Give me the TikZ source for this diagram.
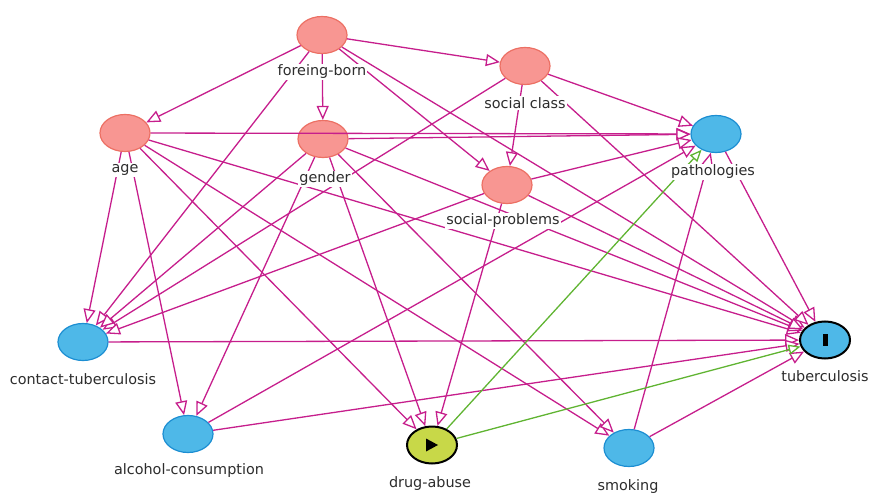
\documentclass[tikz,border=0pt]{standalone}
\usepackage{fontspec}
\setmainfont{DejaVu Sans}
\usetikzlibrary{shapes.geometric,arrows.meta}
\definecolor{pinkline}{RGB}{198,30,140}
\definecolor{greenline}{RGB}{96,180,50}
\definecolor{rfill}{RGB}{248,150,146}
\definecolor{rdraw}{RGB}{236,112,100}
\definecolor{bfill}{RGB}{78,184,232}
\definecolor{bdraw}{RGB}{28,142,210}
\definecolor{yfill}{RGB}{200,216,72}
\definecolor{txt}{RGB}{45,45,45}
\begin{document}
\begin{tikzpicture}[x=1pt,y=-1pt,
  var/.style={ellipse, minimum width=50pt, minimum height=37pt, inner sep=0pt, line width=1.2pt},
  advar/.style={var, fill=rfill, draw=rdraw},
  ovar/.style={var, fill=bfill, draw=bdraw},
  expvar/.style={var, fill=yfill, draw=black, line width=2pt},
  outvar/.style={var, fill=bfill, draw=black, line width=2pt},
  lab/.style={fill=white, inner sep=1pt, text=txt, font=\fontsize{14.4}{16}\selectfont},
  edge/.style={draw=pinkline, line width=1.3pt, -{Triangle[length=14pt,width=12pt,fill=white,line width=1.3pt]}},
  gedge/.style={draw=greenline, line width=1.3pt, -{Triangle[length=12pt,width=10pt,fill=white,line width=1.3pt]}}
]
\useasboundingbox (0,0) rectangle (869,494);
% nodes
\node[advar] (FB) at (322,35) {};
\node[advar] (SC) at (525,66) {};
\node[advar] (AGE) at (125,133) {};
\node[advar] (GEN) at (323,139) {};
\node[advar] (SP) at (507,185) {};
\node[ovar] (PAT) at (716,134) {};
\node[ovar] (CT) at (83,342) {};
\node[outvar] (TB) at (825,340) {};
\node[ovar] (ALC) at (188,434) {};
\node[expvar] (DA) at (432,445) {};
\node[ovar] (SMK) at (629,448) {};
\fill (DA.center) ++(-6,-6.5) -- ++(0,13) -- ++(12,-6.5) -- cycle;
\fill (TB.center) ++(-2.5,-6) rectangle ++(5,12);
% edges
\draw[edge] (FB) -- (SC);
\draw[edge] (FB) -- (GEN);
\draw[edge] (FB) -- (AGE);
\draw[edge] (FB) -- (SP);
\draw[edge] (FB) -- (TB);
\draw[edge] (FB) -- (CT);
\draw[edge] (SC) -- (SP);
\draw[edge] (SC) -- (PAT);
\draw[edge] (SC) -- (TB);
\draw[edge] (SC) -- (CT);
\draw[edge] (AGE) -- (PAT);
\draw[edge] (AGE) -- (CT);
\draw[edge] (AGE) -- (ALC);
\draw[edge] (AGE) -- (DA);
\draw[edge] (AGE) -- (SMK);
\draw[edge] (AGE) -- (TB);
\draw[edge] (GEN) -- (PAT);
\draw[edge] (GEN) -- (CT);
\draw[edge] (GEN) -- (ALC);
\draw[edge] (GEN) -- (DA);
\draw[edge] (GEN) -- (SMK);
\draw[edge] (GEN) -- (TB);
\draw[edge] (SP) -- (PAT);
\draw[edge] (SP) -- (CT);
\draw[edge] (SP) -- (TB);
\draw[edge] (SP) -- (DA);
\draw[edge] (CT) -- (TB);
\draw[edge] (ALC) -- (PAT);
\draw[edge] (ALC) -- (TB);
\draw[edge] (SMK) -- (PAT);
\draw[edge] (SMK) -- (TB);
\draw[edge] (PAT) -- (TB);
\draw[gedge] (DA) -- (PAT);
\draw[gedge] (DA) -- (TB);
% labels
\node[lab] (FBl) at (322,72) {foreing-born};
\node[lab] (SCl) at (525,103) {social class};
\node[lab] (AGEl) at (125,170) {age};
\node[lab] (GENl) at (325,179) {gender};
\node[lab] (SPl) at (503,221) {social-problems};
\node[lab] (PATl) at (713,172) {pathologies};
\node[lab] (CTl) at (83,379) {contact-tuberculosis};
\node[lab] (TBl) at (825,376) {tuberculosis};
\node[lab] (ALCl) at (189,471) {alcohol-consumption};
\node[lab] (DAl) at (430,484) {drug-abuse};
\node[lab] (SMKl) at (628,487) {smoking};
\end{tikzpicture}
\end{document}
